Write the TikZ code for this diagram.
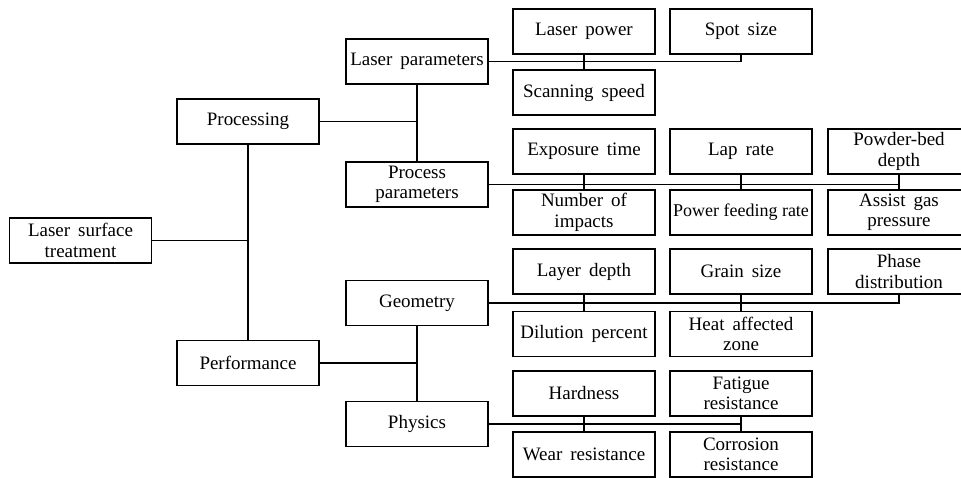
\documentclass[tikz,border=0pt]{standalone}
\usepackage{fontspec}
\setmainfont{Liberation Serif}
\newcommand\widespace{\spaceskip=0.42em\relax}
\begin{document}
\begin{tikzpicture}[x=0.025cm,y=-0.025cm,line width=1.1pt,
    box/.style={draw,line width=1.1pt,minimum width=3.55cm,minimum height=1.125cm,
        inner sep=1pt,align=center,font=\fontsize{13.5}{14.5}\selectfont\widespace}]
    \useasboundingbox (0,0) rectangle (961,478);
    \node[box] (lst) at (80.5,240.5) {Laser surface\\treatment};
    \node[box] (proc) at (248,121.5) {Processing};
    \node[box] (perf) at (248,363) {Performance};
    \node[box] (lpar) at (417,61.5) {Laser parameters};
    \node[box] (ppar) at (417,184.5) {Process\\parameters};
    \node[box] (geom) at (417,303) {Geometry};
    \node[box] (phys) at (417,424) {Physics};
    \node[box] (lpow) at (584,31.5) {Laser power};
    \node[box] (spot) at (741,31.5) {Spot size};
    \node[box] (scan) at (584,92.5) {Scanning speed};
    \node[box] (expo) at (584,151.5) {Exposure time};
    \node[box] (lap) at (741,151.5) {Lap rate};
    \node[box] (bed) at (899,151.5) {Powder-bed\\depth};
    \node[box] (imp) at (584,212.5) {Number of\\impacts};
    \node[box,font=\fontsize{12.8}{14.5}\selectfont] (feed) at (741,212.5) {Power feeding rate};
    \node[box] (gas) at (899,212.5) {Assist gas\\pressure};
    \node[box] (layer) at (584,271.5) {Layer depth};
    \node[box] (grain) at (741,271.5) {Grain size};
    \node[box] (phase) at (899,271.5) {Phase\\distribution};
    \node[box] (dil) at (584,334) {Dilution percent};
    \node[box] (haz) at (741,334) {Heat affected\\zone};
    \node[box] (hard) at (584,393.5) {Hardness};
    \node[box] (fat) at (741,393.5) {Fatigue\\resistance};
    \node[box] (wear) at (584,454.5) {Wear resistance};
    \node[box] (corr) at (741,454.5) {Corrosion\\resistance};
    \draw (lst.east) -- (lst.east -| proc.south);
    \draw (proc.south) -- (perf.north);
    \draw (proc.east) -- (proc.east -| lpar.south);
    \draw (lpar.south) -- (ppar.north);
    \draw (perf.east) -- (perf.east -| geom.south);
    \draw (geom.south) -- (phys.north);
    \draw (lpar.east) -- (lpar.east -| spot.south) -- (spot.south);
    \draw (lpow.south) -- (scan.north);
    \draw (ppar.east) -- (ppar.east -| bed.south) -- (bed.south);
    \draw (expo.south) -- (imp.north);
    \draw (lap.south) -- (feed.north);
    \draw (bed.south) -- (gas.north);
    \draw (geom.east) -- (geom.east -| phase.south) -- (phase.south);
    \draw (layer.south) -- (dil.north);
    \draw (grain.south) -- (haz.north);
    \draw (phys.east) -- (phys.east -| fat.south) -- (fat.south);
    \draw (hard.south) -- (wear.north);
    \draw (fat.south) -- (corr.north);
\end{tikzpicture}
\end{document}
